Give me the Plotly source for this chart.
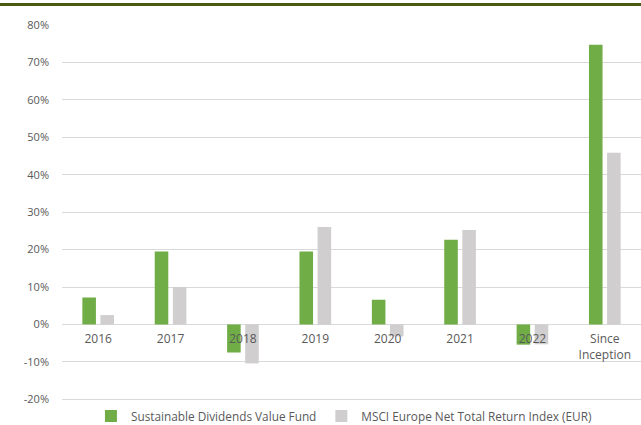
import plotly.graph_objects as go

categories = ["2016", "2017", "2018", "2019", "2020", "2021", "2022", "Since<br>Inception"]
fund_values = [7.2, 19.5, -7.5, 19.5, 6.6, 22.6, -5.4, 74.7]
index_values = [2.5, 10.0, -10.4, 26.0, -3.2, 25.2, -5.3, 45.9]
fund_name = "Sustainable Dividends Value Fund"
index_name = "MSCI Europe Net Total Return Index (EUR)"
y_ticks = [-20, -10, 0, 10, 20, 30, 40, 50, 60, 70, 80]
y_tick_labels = [f"{v}%" for v in y_ticks]

FONT = "Open Sans"
TXT = "#595959"
GRID = "#d9d9d9"

fig = go.Figure()
fig.add_trace(go.Bar(x=categories, y=fund_values, name=fund_name,
                     marker=dict(color="#70ad47", line=dict(width=0))))
fig.add_trace(go.Bar(x=categories, y=index_values, name=index_name,
                     marker=dict(color="#d0cece", line=dict(width=0))))

W, H = 641, 425
L, T, B = 62, 24, 0
PH = H - T - B
# pixel rows of the 80% and -20% gridlines
px80, pxm20 = 25.0, 399.3
per = (pxm20 - px80) / 100.0
y_hi = 80 + (px80 - T) / per
y_lo = -20 - ((H - B) - pxm20) / per

fig.update_layout(
    width=W, height=H,
    margin=dict(l=L, r=0, t=T, b=B, pad=0, autoexpand=False),
    paper_bgcolor="white", plot_bgcolor="white",
    barmode="group", bargap=0.5, bargroupgap=0.25,
    font=dict(family=FONT, color=TXT, size=11),
    showlegend=True,
    legend=dict(orientation="h", x=0.05, xanchor="left",
                y=((H - B) - 416.0) / PH, yanchor="middle",
                font=dict(size=11.8, color=TXT), itemwidth=30,
                bgcolor="rgba(0,0,0,0)"),
    xaxis=dict(anchor="free", position=(0 - y_lo) / (y_hi - y_lo), automargin=False,
               showgrid=False, showline=False, ticks="", ticklabelstandoff=6,
               tickfont=dict(size=12, color=TXT), range=[-0.5, 7.5]),
    yaxis=dict(range=[y_lo, y_hi], tickvals=y_ticks, ticktext=y_tick_labels,
               automargin=False,
               showgrid=True, gridcolor=GRID, gridwidth=1,
               zeroline=True, zerolinecolor=GRID, zerolinewidth=1,
               showline=False, ticks="", ticklabelstandoff=12,
               tickfont=dict(size=11, color=TXT)),
    shapes=[dict(type="line", xref="paper", yref="paper",
                 x0=-L / (W - L), x1=1.0, y0=(H - B - 4.5) / PH, y1=(H - B - 4.5) / PH,
                 line=dict(color="#4b5a12", width=3))],
)

post = (
    "var de=document.documentElement, b=document.body;"
    "de.style.margin='0';de.style.padding='0';de.style.overflow='hidden';"
    "b.style.margin='0';b.style.padding='0';b.style.overflow='hidden';"
)

fig.write_html("out.html", config={"displayModeBar": False}, post_script=post)
